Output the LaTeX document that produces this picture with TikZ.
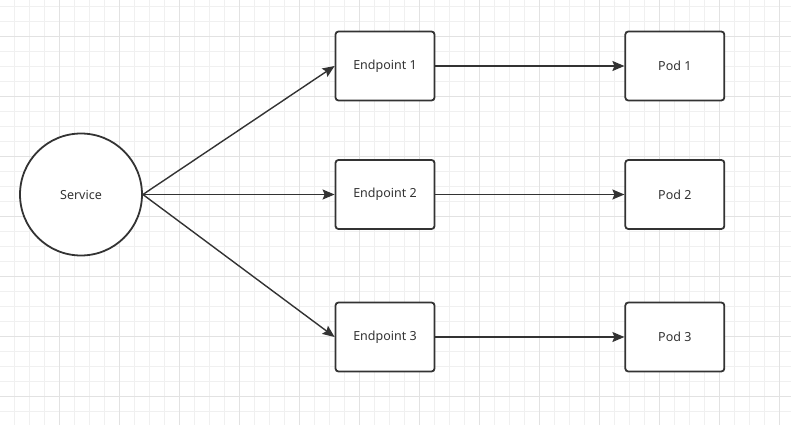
\documentclass[tikz,border=0pt]{standalone}
\usepackage{fontspec}
\setmainfont{Noto Sans}
\usetikzlibrary{arrows.meta,positioning}
\definecolor{ink}{HTML}{333333}
\definecolor{gridminor}{HTML}{F0F0F0}
\definecolor{gridmajor}{HTML}{E2E2E2}
\begin{document}
\begin{tikzpicture}[x=1pt,y=-1pt,
        box/.style={rectangle,draw=ink,line width=1.8pt,fill=white,rounded corners=3pt,
            minimum width=99pt,minimum height=69pt,inner sep=0pt,text=ink,
            font=\fontsize{12.5}{15}\selectfont},
        svc/.style={circle,draw=ink,line width=1.8pt,fill=white,minimum size=122pt,
            inner sep=0pt,text=ink,font=\fontsize{12.5}{15}\selectfont},
        conn/.style={draw=ink,line width=1.4pt,-{Stealth[length=12pt,width=10pt,inset=2pt]}},
        node distance=189pt]
        \useasboundingbox (0,0) rectangle (791,425);
        \fill[white] (0,0) rectangle (791,425);
        % grid
        \foreach \x in {0,...,52} \draw[gridminor,line width=0.8pt] (\x*15-0.7,0) -- (\x*15-0.7,425);
        \foreach \y in {0,...,28} \draw[gridminor,line width=0.8pt] (0,\y*15+6.5) -- (791,\y*15+6.5);
        \foreach \x in {0,...,13} \draw[gridmajor,line width=0.8pt] (\x*60-0.7,0) -- (\x*60-0.7,425);
        \foreach \y in {0,...,6} \draw[gridmajor,line width=0.8pt] (0,\y*60+36.5) -- (791,\y*60+36.5);
        % nodes
        \node[svc] (service) at (81,194.5) {Service};
        \node[box] (ep1) at (385,66) {Endpoint 1};
        \node[box] (ep2) at (385,194.5) {Endpoint 2};
        \node[box] (ep3) at (385,337) {Endpoint 3};
        \node[box, right=of ep1] (pod1) {Pod 1};
        \node[box, right=of ep2] (pod2) {Pod 2};
        \node[box, right=of ep3] (pod3) {Pod 3};
        % connectors
        \foreach \i in {1,2,3} {
            \draw[conn] (service.east) -- (ep\i.west);
            \draw[conn] (ep\i.east) -- (pod\i.west);
        }
\end{tikzpicture}
\end{document}
